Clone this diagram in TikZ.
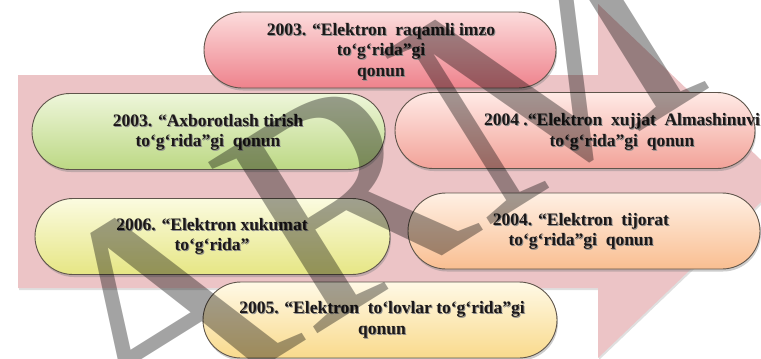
\documentclass[tikz,border=0pt]{standalone}
\usepackage{fontspec}
\setmainfont{Liberation Serif}
\usetikzlibrary{shapes.misc,shadows}

\definecolor{arrowpink}{RGB}{236,196,198}
\definecolor{pillline}{RGB}{95,85,75}
\definecolor{textdark}{RGB}{28,24,24}
\definecolor{redtop}{RGB}{252,220,220}\definecolor{redbot}{RGB}{238,130,140}
\definecolor{greentop}{RGB}{238,246,218}\definecolor{greenbot}{RGB}{188,216,132}
\definecolor{rosetop}{RGB}{255,234,230}\definecolor{rosebot}{RGB}{242,162,152}
\definecolor{yellowtop}{RGB}{251,251,224}\definecolor{yellowbot}{RGB}{230,230,132}
\definecolor{peachtop}{RGB}{255,240,228}\definecolor{peachbot}{RGB}{249,190,145}
\definecolor{sandtop}{RGB}{255,249,230}\definecolor{sandbot}{RGB}{249,218,140}

% text with a soft offset shadow, one line at a time
\newcommand\shd[1]{\makebox[0pt][l]{\kern1pt\raisebox{-1pt}{\textcolor{black!45}{#1}}}#1}

\tikzset{
  pill/.style={rounded rectangle, draw=pillline, line width=0.9pt,
    minimum height=76pt, inner sep=0pt,
    drop shadow={shadow xshift=1pt, shadow yshift=-2.5pt, opacity=0.4}},
  lawtext/.style={font=\bfseries\fontsize{17.5}{20.5}\selectfont,
    align=center, text=textdark, inner sep=0pt},
  bigarrow/.style={fill=arrowpink,
    drop shadow={shadow xshift=1pt, shadow yshift=-2pt, opacity=0.25}},
  wmark/.style={font=\fontsize{310}{310}\selectfont, text=black,
    text opacity=0.36, inner sep=0pt}
}

\begin{document}
\begin{tikzpicture}[x=1pt,y=-1pt]
\useasboundingbox (0,0) rectangle (761,359);
\clip (0,0) rectangle (761,359);

% broad arrow in the background
\path[bigarrow] (18,75) -- (598,75) -- (598,4) -- (783,181)
  -- (598,358) -- (598,288) -- (18,288) -- cycle;

% law pills
\node[pill, minimum width=352pt, top color=redtop, bottom color=redbot]
  (p1) at (380,50) {};
\node[pill, minimum width=353pt, top color=greentop, bottom color=greenbot]
  (p2) at (208.5,131.5) {};
\node[pill, minimum width=360pt, top color=rosetop, bottom color=rosebot]
  (p3) at (575,130.5) {};
\node[pill, minimum width=355pt, top color=yellowtop, bottom color=yellowbot]
  (p4) at (212.5,236.5) {};
\node[pill, minimum width=352pt, top color=peachtop, bottom color=peachbot]
  (p5) at (584,231) {};
\node[pill, minimum width=354pt, top color=sandtop, bottom color=sandbot]
  (p6) at (380,320) {};

% pill captions
\node[lawtext] (t1) at (381,52)
  {\shd{2003. “Elektron~ raqamli imzo}\\\shd{to‘g‘rida”gi}\\\shd{qonun}};
\node[lawtext] (t2) at (208,133)
  {\shd{2003. “Axborotlash tirish}\\\shd{to‘g‘rida”gi~ qonun}};
\node[lawtext] (t3) at (622,132.5)
  {\shd{2004 .“Elektron~ xujjat~ Almashinuvi}\\\shd{to‘g‘rida”gi~ qonun}};
\node[lawtext] (t4) at (212,237)
  {\shd{2006. “Elektron xukumat}\\\shd{to‘g‘rida”}};
\node[lawtext] (t5) at (581,232)
  {\shd{2004. “Elektron~ tijorat}\\\shd{to‘g‘rida”gi~ qonun}};
\node[lawtext] (t6) at (382,320.5)
  {\shd{2005. “Elektron~ to‘lovlar to‘g‘rida”gi}\\\shd{qonun}};

% translucent lettering across the sheet
\node[wmark, rotate=32] (wm) at (364,184) {ARM};
\end{tikzpicture}
\end{document}
